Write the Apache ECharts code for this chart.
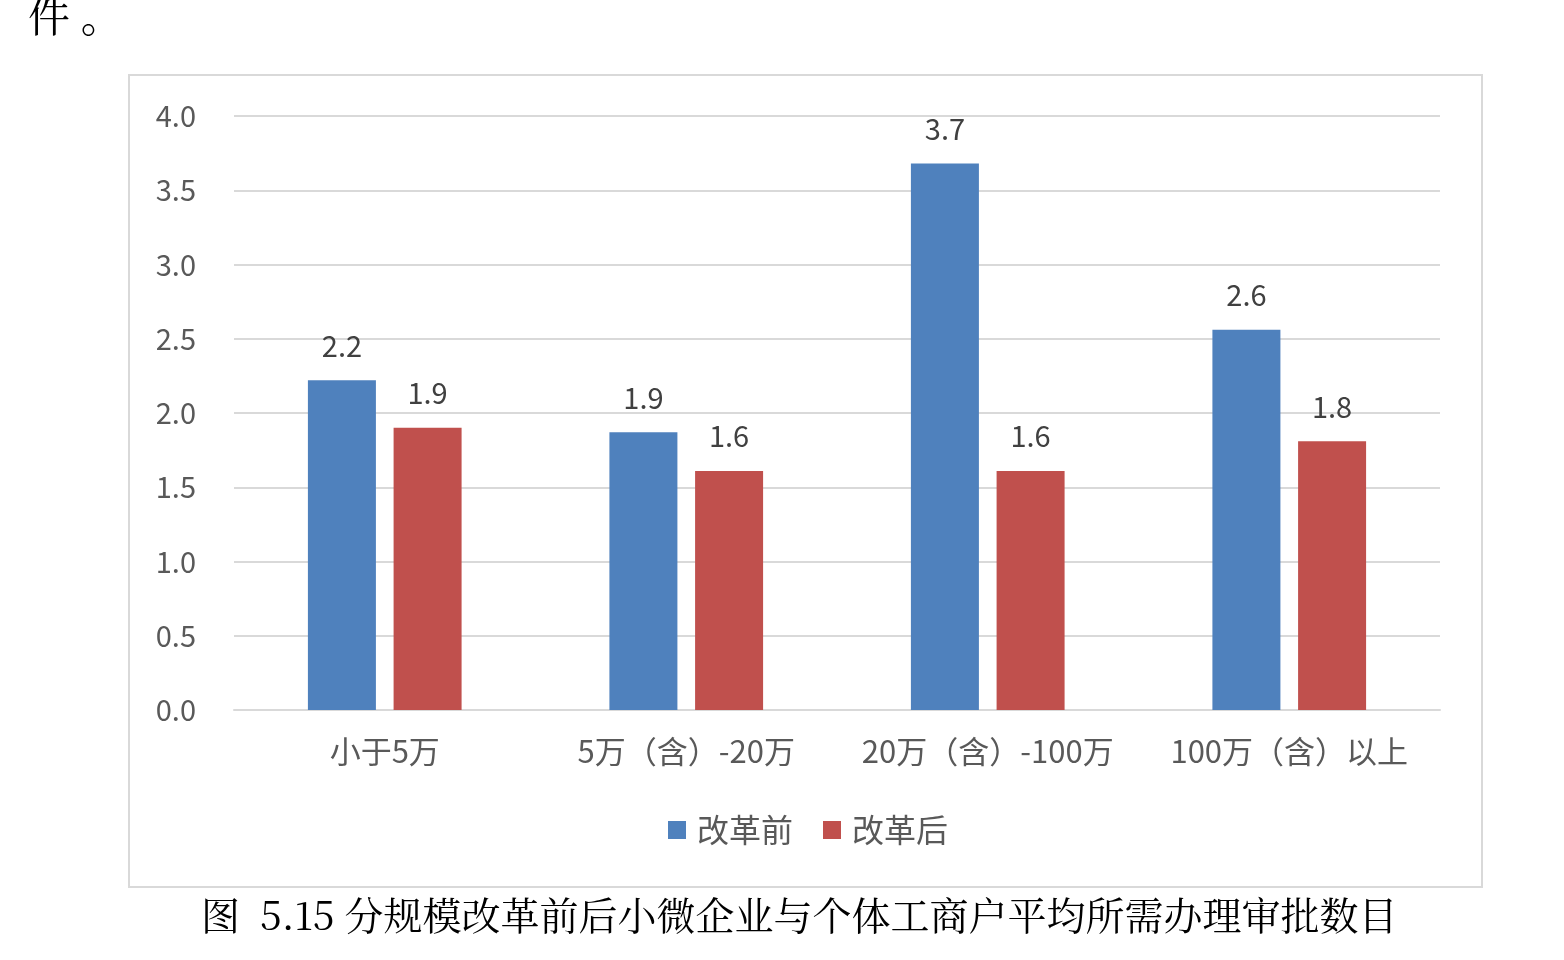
<!DOCTYPE html>
<html>
<head>
<meta charset="utf-8">
<script src="https://cdn.jsdelivr.net/npm/echarts@6/dist/echarts.min.js"></script>
<style>
html, body { margin: 0; padding: 0; background: #fff; }
#chart { width: 1564px; height: 960px; }
</style>
</head>
<body>
<div id="chart"></div>
<script>
var categories = ['小于5万', '5万（含）-20万', '20万（含）-100万', '100万（含）以上'];
var seriesNames = ['改革前', '改革后'];
var beforeValues = [2.22, 1.87, 3.68, 2.56];
var afterValues = [1.90, 1.61, 1.61, 1.81];
var yTicks = { min: 0, max: 4, interval: 0.5 };

var cjkFont = '"Noto Sans CJK SC", "Open Sans", sans-serif';
var serifFont = '"Noto Serif CJK SC", ' + cjkFont;
var textColor = '#595959';

var myChart = echarts.init(document.getElementById('chart'));
var option = {
    backgroundColor: '#fff',
    animation: false,
    textStyle: { fontFamily: cjkFont },
    grid: { left: 234, right: 124, top: 116, bottom: 250 },
    legend: {
        data: seriesNames,
        left: 663,
        top: 809,
        itemWidth: 18,
        itemHeight: 18,
        itemGap: 30,
        icon: 'rect',
        textStyle: { fontSize: 32, color: textColor, fontFamily: cjkFont, padding: [0, 0, 0, 6] }
    },
    xAxis: {
        type: 'category',
        data: categories,
        axisLine: { lineStyle: { color: '#D9D9D9', width: 2 } },
        axisTick: { show: false },
        axisLabel: { interval: 0, fontSize: 31, color: textColor, margin: 26, fontFamily: cjkFont }
    },
    yAxis: {
        type: 'value',
        min: yTicks.min,
        max: yTicks.max,
        interval: yTicks.interval,
        axisLine: { show: false },
        axisTick: { show: false },
        splitLine: { lineStyle: { color: '#D9D9D9', width: 2 } },
        axisLabel: {
            fontSize: 29, color: textColor, margin: 38,
            formatter: function (v) { return v.toFixed(1); }
        }
    },
    series: [
        {
            name: seriesNames[0],
            type: 'bar',
            data: beforeValues,
            barWidth: 68,
            barGap: '26%',
            itemStyle: { color: '#4F81BD' },
            label: {
                show: true, position: 'top', distance: 20, fontSize: 29, color: '#404040',
                formatter: function (p) { return p.value.toFixed(1); }
            }
        },
        {
            name: seriesNames[1],
            type: 'bar',
            data: afterValues,
            barWidth: 68,
            barGap: '26%',
            itemStyle: { color: '#C0504D' },
            label: {
                show: true, position: 'top', distance: 20, fontSize: 29, color: '#404040',
                formatter: function (p) { return p.value.toFixed(1); }
            }
        }
    ],
    graphic: [
        {
            type: 'rect',
            shape: { x: 129, y: 75, width: 1353, height: 812 },
            style: { fill: 'none', stroke: '#D9D9D9', lineWidth: 2 },
            z: -1
        },
        {
            type: 'text',
            left: 28,
            top: -5,
            style: { text: '件 。', fontSize: 42, fill: '#000', fontFamily: serifFont }
        },
        {
            type: 'text',
            left: 201,
            top: 896,
            style: {
                text: '图  5.15 分规模改革前后小微企业与个体工商户平均所需办理审批数目',
                fontSize: 39, fill: '#000', fontFamily: serifFont
            }
        }
    ]
};
myChart.setOption(option);
window.addEventListener('resize', function () { myChart.resize(); });
</script>
</body>
</html>
